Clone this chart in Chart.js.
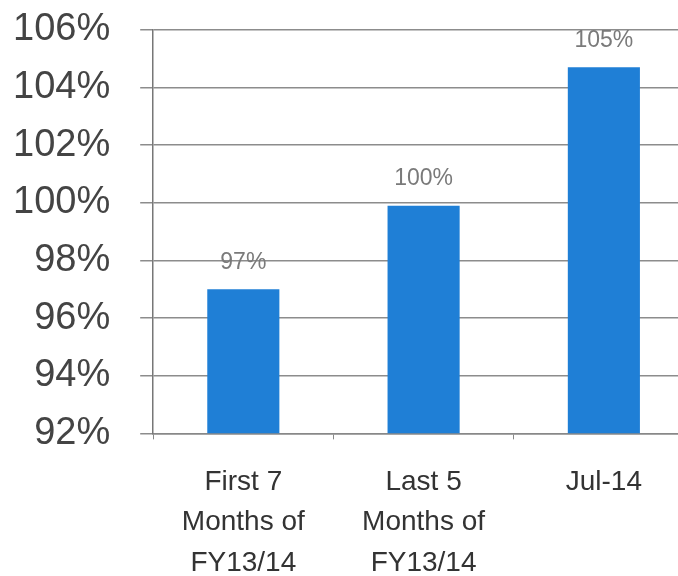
<!DOCTYPE html>
<html>
<head>
<meta charset="utf-8">
<script src="https://cdn.jsdelivr.net/npm/chart.js@4"></script>
<style>
  html, body { margin: 0; padding: 0; background: #fff; overflow: hidden; }
  #wrap { position: relative; top: -23px; width: 700px; height: 599px; }
</style>
</head>
<body>
<div id="wrap"><canvas id="myChart"></canvas></div>
<script>
const categories = [
    ['First 7', 'Months of', 'FY13/14'],
    ['Last 5', 'Months of', 'FY13/14'],
    'Jul-14'
];
const values = [97.0, 99.9, 104.7];
const valueLabels = ['97%', '100%', '105%'];
const yMin = 92;
const yMax = 106;
const yStep = 2;

const FONT = "'Liberation Sans', Arial, sans-serif";

// draws the % labels above each bar
const barLabels = {
    id: 'barLabels',
    afterDatasetsDraw(chart) {
        const ctx = chart.ctx;
        const meta = chart.getDatasetMeta(0);
        ctx.save();
        ctx.font = '23px ' + FONT;
        ctx.fillStyle = '#7a7a7a';
        ctx.textAlign = 'center';
        ctx.textBaseline = 'bottom';
        meta.data.forEach((bar, i) => {
            ctx.fillText(valueLabels[i], bar.x, bar.y - 15);
        });
        ctx.restore();
    }
};

const ctx = document.getElementById('myChart');

new Chart(ctx, {
    type: 'bar',
    data: {
        labels: categories,
        datasets: [{
            data: values,
            backgroundColor: '#1f7fd6',
            barPercentage: 0.4,
            categoryPercentage: 1
        }]
    },
    plugins: [barLabels],
    options: {
        responsive: true,
        maintainAspectRatio: false,
        animation: false,
        layout: { padding: { left: -17, right: 6, top: 0, bottom: -30 } },
        plugins: {
            legend: { display: false },
            tooltip: { enabled: false }
        },
        scales: {
            x: {
                offset: true,
                grid: {
                    offset: true,
                    drawOnChartArea: false,
                    drawTicks: true,
                    tickLength: 6,
                    color: '#888'
                },
                border: { color: '#888', width: 1.5 },
                ticks: {
                    color: '#333',
                    padding: 22,
                    maxRotation: 0,
                    autoSkip: false,
                    font: { family: FONT, size: 28, lineHeight: 1.46 }
                }
            },
            y: {
                min: yMin,
                max: yMax,
                grid: {
                    color: '#8c8c8c',
                    lineWidth: 1.5,
                    tickLength: 13
                },
                border: { color: '#777', width: 1.5 },
                ticks: {
                    stepSize: yStep,
                    autoSkip: false,
                    color: '#444',
                    padding: 30,
                    font: { family: FONT, size: 38 },
                    callback: (v) => v + '%'
                }
            }
        }
    }
});
</script>
</body>
</html>
